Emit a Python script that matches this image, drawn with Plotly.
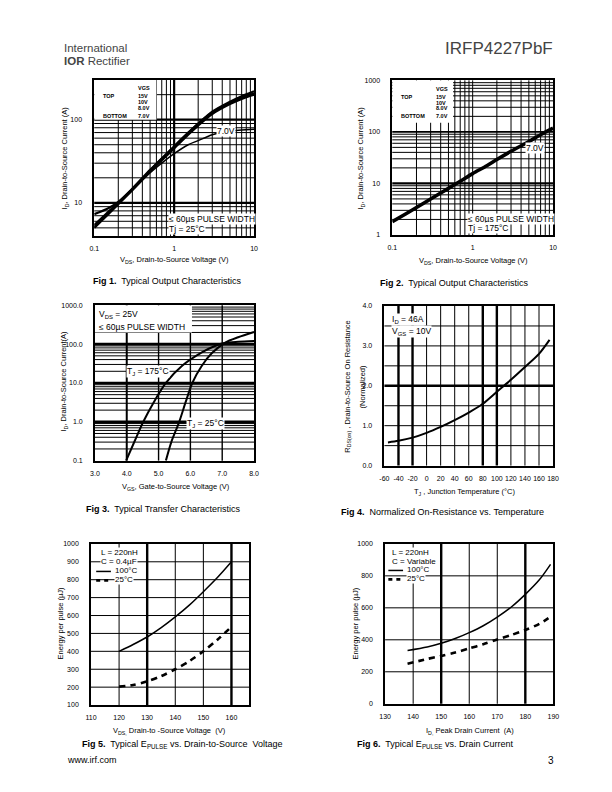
import math
import plotly.graph_objects as go

# ---------------- DATA ----------------
# Fig 1 : Typical output characteristics, Tj = 25C
f1_vds = [0.1, 0.15, 0.2, 0.3, 0.5, 0.7, 1, 1.5, 2, 3, 5, 7, 10]
f1_15v = [7.3, 8.6, 10.3, 14.8, 25, 34, 48, 70, 90, 125, 165, 192, 220]
f1_10v = [5.4, 7.8, 10.0, 14.8, 24.5, 34, 47, 69, 89, 122, 160, 185, 208]
f1_8v = [5.0, 7.3, 9.6, 14.2, 23.5, 32.5, 45, 66, 85, 117, 154, 178, 200]
f1_7v = [5.2, 7.6, 9.9, 14.5, 23, 30, 39, 50, 56, 66, 73, 75, 77]

# Fig 2 : Typical output characteristics, Tj = 175C (all VGS overlap)
f2_vds = [0.1, 0.15, 0.2, 0.3, 0.5, 0.7, 1, 1.5, 2, 3, 5, 7, 10]
f2_id = [1.8, 2.6, 3.4, 5.0, 8.0, 11, 15.5, 22, 29, 42, 65, 88, 118]

# Fig 3 : Typical transfer characteristics
f3_vgs_175 = [3.98, 4.25, 4.52, 4.85, 5.23, 5.75, 6.36, 6.75, 7.1, 7.5, 8.0]
f3_id_175 = [0.1, 0.32, 1.0, 3.2, 10, 28, 61, 88, 108, 115, 120]
f3_vgs_25 = [5.23, 5.4, 5.65, 5.85, 6.06, 6.35, 6.67, 7.1, 7.5, 8.0]
f3_id_25 = [0.1, 0.3, 1.0, 3.2, 10, 27, 58, 110, 150, 205]

# Fig 4 : Normalized on-resistance vs temperature
f4_tj = [-55, -40, -20, 0, 20, 40, 60, 80, 100, 120, 140, 160, 175]
f4_r = [0.58, 0.62, 0.70, 0.82, 0.97, 1.14, 1.33, 1.55, 1.85, 2.15, 2.47, 2.8, 3.15]

# Fig 5 : Epulse vs drain-to-source voltage
f5_vds = [120, 125, 130, 135, 140, 145, 150, 155, 160]
f5_100c = [400, 438, 480, 532, 592, 658, 733, 812, 900]
f5_25c = [203, 212, 232, 262, 300, 345, 400, 465, 537]

# Fig 6 : Epulse vs drain current
f6_id = [138, 145, 150, 155, 160, 165, 170, 175, 180, 185, 189]
f6_100c = [333, 355, 378, 408, 445, 488, 542, 605, 684, 775, 872]
f6_25c = [250, 280, 299, 320, 346, 372, 402, 430, 461, 500, 544]

# tick labels
t12_x = [0.1, 1, 10]
t1_y = [10, 100]
t2_y = [1, 10, 100, 1000]
t3_x = [3, 4, 5, 6, 7, 8]
t3_y = [0.1, 1, 10, 100, 1000]
t4_x = list(range(-60, 181, 20))
t4_y = [0, 1, 2, 3, 4]
t5_x = [110, 120, 130, 140, 150, 160]
t5_y = list(range(100, 1001, 100))
t6_x = [130, 140, 150, 160, 170, 180, 190]
t6_y = [0, 200, 400, 600, 800, 1000]

# ---------------- LAYOUT HELPERS ----------------
W, H = 612, 792
FONT = "Liberation Sans"

def px(x):
    return x / W

def py(y):
    return 1 - y / H

panels = {
    1: dict(x=(90, 253), y=(76.7, 234)),
    2: dict(x=(394, 558), y=(77, 233)),
    3: dict(x=(90.7, 253), y=(304, 460.7)),
    4: dict(x=(386, 558), y=(304.7, 465.7)),
    5: dict(x=(86.7, 248.3), y=(544.7, 707.3)),
    6: dict(x=(386.7, 558.3), y=(544.7, 706)),
}

fig = go.Figure()
layout = dict(
    width=W, height=H, margin=dict(l=0, r=0, t=0, b=0),
    paper_bgcolor="white", plot_bgcolor="white", showlegend=False,
    font=dict(family=FONT, color="black"),
)

def axname(i, a):
    return a + ("" if i == 1 else str(i))

def axis_common(i, a, **kw):
    p = panels[i]
    d = dict(
        showline=True, mirror=True, linecolor="black", linewidth=1.6,
        ticks="", showgrid=False, zeroline=False,
        tickfont=dict(family=FONT, size=7, color="black"),
        fixedrange=True,
    )
    if a == "x":
        d["domain"] = [px(p["x"][0]), px(p["x"][1])]
        d["anchor"] = axname(i, "y")
        d["ticklabelstandoff"] = 5
    else:
        d["domain"] = [py(p["y"][1]), py(p["y"][0])]
        d["anchor"] = axname(i, "x")
        d["ticklabelstandoff"] = 9
    d.update(kw)
    return d

lg = math.log10

layout["xaxis"] = axis_common(1, "x", type="log", range=[-1, 1], tickvals=t12_x, ticktext=["0.1", "1", "10"])
layout["yaxis"] = axis_common(1, "y", type="log", range=[lg(4), lg(300)], tickvals=t1_y, ticktext=["10", "100"])
layout["xaxis2"] = axis_common(2, "x", type="log", range=[-1, 1], tickvals=t12_x, ticktext=["0.1", "1", "10"])
layout["yaxis2"] = axis_common(2, "y", type="log", range=[0, 3], tickvals=t2_y, ticktext=["1", "10", "100", "1000"])
layout["xaxis3"] = axis_common(3, "x", range=[3, 8], tickvals=t3_x, ticktext=[f"{v:.1f}" for v in t3_x])
layout["yaxis3"] = axis_common(3, "y", type="log", range=[-1, 3], tickvals=t3_y, ticktext=["0.1", "1.0", "10.0", "100.0", "1000.0"])
layout["xaxis4"] = axis_common(4, "x", range=[-60, 180], tickvals=t4_x, ticktext=[str(v) for v in t4_x])
layout["yaxis4"] = axis_common(4, "y", range=[0, 4], tickvals=t4_y, ticktext=[f"{v:.1f}" for v in t4_y])
layout["xaxis5"] = axis_common(5, "x", range=[110, 166.4], tickvals=t5_x, ticktext=[str(v) for v in t5_x])
layout["yaxis5"] = axis_common(5, "y", range=[100, 1000], tickvals=t5_y, ticktext=[str(v) for v in t5_y])
layout["xaxis6"] = axis_common(6, "x", range=[130, 190], tickvals=t6_x, ticktext=[str(v) for v in t6_x])
layout["yaxis6"] = axis_common(6, "y", range=[0, 1000], tickvals=t6_y, ticktext=[str(v) for v in t6_y])

shapes = []
annotations = []

# NOTE: shapes on log axes take raw data values
def vgrid(i, vals, w=1.0):
    for v in vals:
        shapes.append(dict(type="line", xref=axname(i, "x"), yref=axname(i, "y") + " domain",
                           x0=v, x1=v, y0=0, y1=1, layer="below",
                           line=dict(color="black", width=w)))

def hgrid(i, vals, w=1.0):
    for v in vals:
        shapes.append(dict(type="line", yref=axname(i, "y"), xref=axname(i, "x") + " domain",
                           y0=v, y1=v, x0=0, x1=1, layer="below",
                           line=dict(color="black", width=w)))

def whitebox(i, x0, x1, y0, y1):
    shapes.append(dict(type="rect", xref=axname(i, "x"), yref=axname(i, "y"),
                       x0=x0, x1=x1, y0=y0, y1=y1, layer="below",
                       fillcolor="white", line=dict(width=0)))

minor_lo = [0.2, 0.3, 0.4, 0.5, 0.6, 0.7, 0.8, 0.9]
minor_hi = [2, 3, 4, 5, 6, 7, 8, 9]
dec1 = [2, 3, 4, 5, 6, 7, 8, 9]

# Fig 1 grid
vgrid(1, minor_lo + minor_hi, 1.0)
vgrid(1, [1], 2.2)
hgrid(1, [5, 6, 7, 8, 9] + [d * 10 for d in dec1] + [200], 1.0)
hgrid(1, [10, 100], 2.2)
whitebox(1, 0.1, 0.6, 100, 300)
# Fig 2 grid
vgrid(2, minor_lo + [1] + minor_hi, 1.0)
hgrid(2, dec1 + [d * 10 for d in dec1] + [d * 100 for d in dec1], 1.0)
hgrid(2, [10], 2.4)
hgrid(2, [100], 1.6)
whitebox(2, 0.1, 0.57, 150, 1000)
# Fig 3 grid
vgrid(3, [4], 2.0)
vgrid(3, [5, 6, 7], 1.4)
hgrid(3, [d / 10 for d in dec1] + dec1 + [d * 10 for d in dec1] + [d * 100 for d in dec1], 1.0)
hgrid(3, [1, 10, 100], 2.6)
whitebox(3, 3, 6.05, 200, 1000)
# Fig 4 grid
vgrid(4, [0, 20, 40, 60, 120, 140, 160], 1.0)
vgrid(4, [-40, -20, 80, 100], 2.4)
hgrid(4, [0.5, 1.0, 1.5, 2.5, 3.0, 3.5], 1.0)
hgrid(4, [2.0], 2.4)
# Fig 5 grid
vgrid(5, [120, 140, 150], 1.0)
vgrid(5, [130, 160], 2.4)
hgrid(5, [200, 300, 400, 500, 600, 700, 800, 900], 1.0)
# Fig 6 grid
vgrid(6, [140, 160, 170], 1.0)
vgrid(6, [150, 180], 2.4)
hgrid(6, [200, 400, 600, 800], 1.0)

# ---------------- TRACES ----------------
def add_line(i, x, y, width=2, dash="solid", shape="spline"):
    fig.add_trace(go.Scatter(
        x=x, y=y, mode="lines", xaxis=axname(i, "x"), yaxis=axname(i, "y"),
        line=dict(color="black", width=width, dash=dash, shape=shape, smoothing=0.8),
        hoverinfo="skip"))

add_line(1, f1_vds, f1_15v, 2.2)
add_line(1, f1_vds, f1_10v, 2.2)
add_line(1, f1_vds, f1_8v, 2.2)
add_line(1, f1_vds, f1_7v, 1.5)
add_line(2, f2_vds, f2_id, 3.6)
add_line(3, f3_vgs_175, f3_id_175, 2.0)
add_line(3, f3_vgs_25, f3_id_25, 2.0)
add_line(4, f4_tj, f4_r, 2.0)
add_line(5, f5_vds, f5_100c, 1.5)
add_line(5, f5_vds, f5_25c, 2.6, dash="6px,5px")
add_line(6, f6_id, f6_100c, 1.5)
add_line(6, f6_id, f6_25c, 2.6, dash="6px,5px")

# ---------------- TEXT ----------------
def ptext(x, y, text, size=8, xanchor="center", yanchor="middle", angle=0, color="black", bg=None):
    a = dict(xref="paper", yref="paper", x=px(x), y=py(y), text=text,
             showarrow=False, xanchor=xanchor, yanchor=yanchor, textangle=angle,
             font=dict(size=size, family=FONT, color=color))
    if bg:
        a["bgcolor"] = bg
        a["borderpad"] = 0
    annotations.append(a)

# annotations on log axes take log10 values
def dtext(i, x, y, text, size=8, xanchor="left", bg=None):
    a = dict(xref=axname(i, "x"), yref=axname(i, "y"), x=x, y=y, text=text,
             showarrow=False, xanchor=xanchor, yanchor="middle",
             font=dict(size=size, family=FONT, color="black"), borderpad=0)
    if bg:
        a["bgcolor"] = bg
    annotations.append(a)

# header
ptext(57, 44, "International", size=11.5, xanchor="left", color="#444")
ptext(57, 57.5, "<b>IOR</b> Rectifier", size=11.5, xanchor="left", color="#444")
ptext(560, 45, "IRFP4227PbF", size=17, xanchor="right", color="#444")

# Fig 1 / Fig 2 VGS legends
for (xx, yy, t) in [(133, 85, "VGS"), (97, 93.3, "TOP"), (133, 93.3, "15V"), (133, 99.3, "10V"),
                    (133, 104.6, "8.0V"), (97, 112.5, "BOTTOM"), (133, 112.5, "7.0V")]:
    ptext(xx, yy, "<b>" + t + "</b>", size=5.5, xanchor="left")
    ptext(xx + 304, yy + 0.3, "<b>" + t + "</b>", size=5.5, xanchor="left")

# Fig 1 texts
dtext(1, lg(4.4), lg(73), "7.0V", size=8.5, xanchor="center", bg="white")
dtext(1, lg(0.84), lg(6.4), "≤ 60µs PULSE WIDTH", size=8.5, bg="white")
dtext(1, lg(0.84), lg(4.9), "Tj = 25°C", size=8.5, bg="white")
ptext(172, 258, "V<sub>DS</sub>, Drain-to-Source Voltage (V)", size=7.5)
ptext(60, 155, "I<sub>D</sub>, Drain-to-Source Current (A)", size=7.5, angle=-90)
ptext(164, 279, "<b>Fig 1.</b>  Typical Output Characteristics", size=9)

# Fig 2 texts
dtext(2, lg(5.9), lg(49), "7.0V", size=8.5, xanchor="center", bg="white")
dtext(2, lg(0.84), lg(2.05), "≤ 60µs PULSE WIDTH", size=8.5, bg="white")
dtext(2, lg(0.84), lg(1.36), "Tj = 175°C", size=8.5, bg="white")
ptext(477, 259, "V<sub>DS</sub>, Drain-to-Source Voltage (V)", size=7.5)
ptext(362, 155, "I<sub>D</sub>, Drain-to-Source Current (A)", size=7.5, angle=-90)
ptext(457, 281, "<b>Fig 2.</b>  Typical Output Characteristics", size=9)

# Fig 3 texts
ptext(93, 313, "V<sub>DS</sub> = 25V", size=8.5, xanchor="left")
ptext(93, 326, "≤ 60µs PULSE WIDTH", size=8.5, xanchor="left")
dtext(3, 3.97, lg(20), "T<sub>J</sub> = 175°C", size=8.5, bg="white")
dtext(3, 5.85, lg(0.9), "T<sub>J</sub> = 25°C", size=8.5, bg="white")
ptext(173, 487, "V<sub>GS</sub>, Gate-to-Source Voltage (V)", size=7.5)
ptext(59, 380, "I<sub>D</sub>, Drain-to-Source Current(A)", size=7.5, angle=-90)
ptext(160, 510, "<b>Fig 3.</b>  Typical Transfer Characteristics", size=9)

# Fig 4 texts
dtext(4, -50, 3.65, "I<sub>D</sub> = 46A", size=8.5, bg="white")
dtext(4, -50, 3.35, "V<sub>GS</sub> = 10V", size=8.5, bg="white")
ptext(468, 492, "T<sub>J</sub> , Junction Temperature (°C)", size=7.5)
ptext(348, 386, "R<sub>DS(on)</sub> , Drain-to-Source On Resistance", size=7.5, angle=-90)
ptext(364, 386, "(Normalized)", size=7.5, angle=-90)
ptext(445, 513, "<b>Fig 4.</b>  Normalized On-Resistance vs. Temperature", size=9)

# Fig 5 texts
ptext(96, 553, "L = 220nH", size=8, xanchor="left", bg="white")
ptext(96, 562, "C = 0.4µF", size=8, xanchor="left", bg="white")
ptext(110, 572, "100°C", size=8, xanchor="left", bg="white")
ptext(110, 581, "25°C", size=8, xanchor="left", bg="white")
shapes.append(dict(type="line", xref="paper", yref="paper", x0=px(92), x1=px(107), y0=py(572.5), y1=py(572.5),
                   line=dict(color="black", width=1.5)))
shapes.append(dict(type="line", xref="paper", yref="paper", x0=px(92), x1=px(107), y0=py(581.5), y1=py(581.5),
                   line=dict(color="black", width=2.6, dash="4px,4px")))
annotations.append(dict(xref="x5", yref="paper", x=170, y=py(717), text="170", showarrow=False,
                        xanchor="center", yanchor="middle", font=dict(size=7, family=FONT, color="black")))
ptext(167, 733, "V<sub>DS,</sub> Drain-to -Source Voltage  (V)", size=7.5)
ptext(56, 625, "Energy per pulse (µJ)", size=7.5, angle=-90)
ptext(180, 747, "<b>Fig 5.</b>  Typical E<sub>PULSE</sub> vs. Drain-to-Source  Voltage", size=9)
ptext(60, 763, "www.irf.com", size=9, xanchor="left")

# Fig 6 texts
ptext(393, 553, "L = 220nH", size=8, xanchor="left", bg="white")
ptext(393, 562, "C = Variable", size=8, xanchor="left", bg="white")
ptext(408, 571, "100°C", size=8, xanchor="left", bg="white")
ptext(408, 580, "25°C", size=8, xanchor="left", bg="white")
shapes.append(dict(type="line", xref="paper", yref="paper", x0=px(390), x1=px(405), y0=py(571.5), y1=py(571.5),
                   line=dict(color="black", width=1.5)))
shapes.append(dict(type="line", xref="paper", yref="paper", x0=px(390), x1=px(405), y0=py(580.5), y1=py(580.5),
                   line=dict(color="black", width=2.6, dash="4px,4px")))
ptext(473, 733, "I<sub>D,</sub> Peak Drain Current  (A)", size=7.5)
ptext(356, 625, "Energy per pulse (µJ)", size=7.5, angle=-90)
ptext(438, 747, "<b>Fig 6.</b>  Typical E<sub>PULSE</sub> vs. Drain Current", size=9)
ptext(556, 763, "3", size=10)

layout["shapes"] = shapes
layout["annotations"] = annotations
fig.update_layout(**layout)
fig.write_html("out.html", config={"displayModeBar": False},
               post_script="document.body.style.margin='0px';")
